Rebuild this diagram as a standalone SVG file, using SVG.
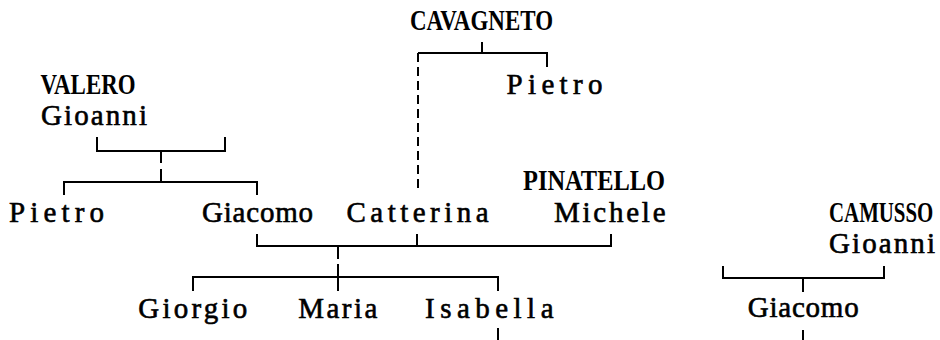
<svg xmlns="http://www.w3.org/2000/svg" width="940" height="340" viewBox="0 0 940 340">
<style>
  text { font-family: "Liberation Serif", "DejaVu Serif", serif; font-size: 29px; fill: #000; stroke: #000; stroke-width: 0.6; }
  text.cap { font-weight: bold; stroke-width: 0; }
  .ln { fill: none; stroke: #000; stroke-width: 2; }
  .dash { stroke-dasharray: 9 5; }
</style>
<rect width="940" height="340" fill="#fff"/>
<g id="connectors">
  <path class="ln" d="M97,137 V151 H225 V137"/>
  <path class="ln" d="M161,151 V163 M161,169 V182"/>
  <path class="ln" d="M64,195 V182 H257 V195"/>
  <path class="ln" d="M482,42 V53"/>
  <path class="ln" d="M418,53 H547 V67"/>
  <path class="ln dash" d="M418,53 V193"/>
  <path class="ln" d="M257,234 V246 H611 V234"/>
  <path class="ln" d="M417,234 V246"/>
  <path class="ln" d="M338,246 V259 M338,264 V291"/>
  <path class="ln" d="M193,291 V277 H498 V291"/>
  <path class="ln" d="M498,328 V340"/>
  <path class="ln" d="M723,266 V278 H884 V266"/>
  <path class="ln" d="M803,278 V292"/>
  <path class="ln" d="M803,330 V340"/>
</g>
<g id="cavagneto"><text class="cap" x="410" y="30" textLength="143" lengthAdjust="spacingAndGlyphs">CAVAGNETO</text></g>
<g id="pietro-cavagneto"><text x="506.5" y="94" textLength="96" lengthAdjust="spacing">Pietro</text></g>
<g id="valero-gioanni"><text class="cap" x="40.5" y="94" textLength="95" lengthAdjust="spacingAndGlyphs">VALERO</text><text x="41" y="125" textLength="106" lengthAdjust="spacing">Gioanni</text></g>
<g id="pietro-valero"><text x="9" y="222" textLength="95" lengthAdjust="spacing">Pietro</text></g>
<g id="giacomo-valero"><text x="202" y="222" textLength="111" lengthAdjust="spacing">Giacomo</text></g>
<g id="catterina"><text x="346.5" y="222" textLength="142" lengthAdjust="spacing">Catterina</text></g>
<g id="pinatello-michele"><text class="cap" x="523" y="190" textLength="142" lengthAdjust="spacingAndGlyphs">PINATELLO</text><text x="554" y="222" textLength="111.5" lengthAdjust="spacing">Michele</text></g>
<g id="camusso-gioanni"><text class="cap" transform="translate(829,222) scale(0.7,1)" x="0" y="0" textLength="149" lengthAdjust="spacingAndGlyphs">CAMUSSO</text><text x="935" y="253" text-anchor="end" textLength="106" lengthAdjust="spacing">Gioanni</text></g>
<g id="giacomo-camusso"><text x="747.7" y="317" textLength="111" lengthAdjust="spacing">Giacomo</text></g>
<g id="giorgio"><text x="138.3" y="318" textLength="109" lengthAdjust="spacing">Giorgio</text></g>
<g id="maria"><text x="298.3" y="318" textLength="79" lengthAdjust="spacing">Maria</text></g>
<g id="isabella"><text x="425" y="318" textLength="128.5" lengthAdjust="spacing">Isabella</text></g>
</svg>
